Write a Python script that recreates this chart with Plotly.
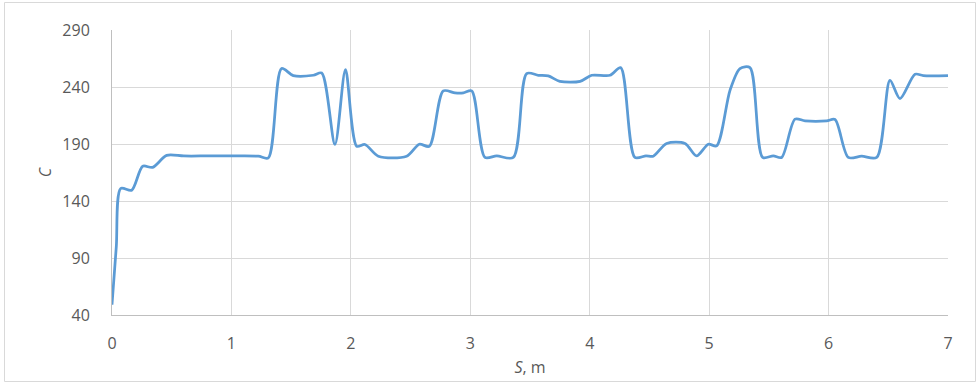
import plotly.graph_objects as go

s_m = [0, 0.036, 0.073, 0.165, 0.257, 0.34, 0.458, 0.6, 0.8, 1.0, 1.225, 1.309, 1.42, 1.518, 1.686, 1.756,
       1.867, 1.955, 2.049, 2.118, 2.23, 2.467, 2.573, 2.657, 2.774, 2.872, 2.942, 3.012, 3.123,
       3.221, 3.36, 3.472, 3.57, 3.653, 3.75, 3.92, 4.017, 4.17, 4.259, 4.378, 4.471, 4.532, 4.644,
       4.798, 4.895, 4.993, 5.063, 5.175, 5.258, 5.342, 5.448, 5.537, 5.607, 5.719, 5.803, 5.984,
       6.054, 6.165, 6.277, 6.403, 6.514, 6.598, 6.724, 6.793, 7.0]
c_vals = [49, 100, 151, 149.5, 170.5, 169.5, 180, 179.5, 179.5, 179.5, 179.3, 177.8, 256.2, 250, 250.3, 252.3,
          189.6, 255.3, 188, 189.6, 179.3, 179.3, 189.8, 188, 236.6, 234.8, 234.8, 236.6, 178.2,
          179.6, 178.2, 251.8, 250.3, 249.7, 245, 245, 250.3, 250.3, 257, 178.2, 179.6, 179.3, 190.5,
          190.5, 179.6, 189.8, 188.4, 237.2, 256.2, 257, 178.2, 179.6, 178.2, 211.8, 210.3, 210.3,
          211.5, 178.2, 179.3, 178.2, 245.9, 229.9, 251.2, 250, 250]

x_ticks = [0, 1, 2, 3, 4, 5, 6, 7]
y_ticks = [40, 90, 140, 190, 240, 290]

W, H = 976, 384
ML, MR, MT, MB = 112, 28, 30, 69

fig = go.Figure()
fig.add_trace(go.Scatter(x=s_m, y=c_vals, mode="lines",
                         line=dict(color="#5B9BD5", width=2.75, shape="spline", smoothing=0.8),
                         hoverinfo="skip", showlegend=False))

font = dict(family="'Open Sans', sans-serif", size=16, color="#595959")

fig.update_layout(
    width=W, height=H,
    margin=dict(l=ML, r=MR, t=MT, b=MB),
    paper_bgcolor="white", plot_bgcolor="white",
    font=font,
    xaxis=dict(range=[0, 7], tickvals=x_ticks, ticktext=[str(v) for v in x_ticks],
               showgrid=True, gridcolor="#d9d9d9", gridwidth=1,
               showline=True, linecolor="#bfbfbf", linewidth=1,
               zeroline=False, ticks="", ticklabelstandoff=14,
               title=dict(text="<i>S</i>, m", standoff=8, font=font)),
    yaxis=dict(range=[40, 290], tickvals=y_ticks, ticktext=[str(v) for v in y_ticks],
               showgrid=True, gridcolor="#d9d9d9", gridwidth=1,
               showline=True, linecolor="#bfbfbf", linewidth=1,
               zeroline=False, ticks="", ticklabelstandoff=18,
               title=dict(text="<i>C</i>", standoff=6, font=font)),
)

pw = W - ML - MR
ph = H - MT - MB
def px2x(p):
    return (p - ML) / pw
def py2y(p):
    return (H - MB - p) / ph

fig.add_shape(type="rect", xref="paper", yref="paper",
              x0=px2x(4.5), x1=px2x(975.5), y0=py2y(381.5), y1=py2y(2.5),
              line=dict(color="#d9d9d9", width=1), layer="below")

fig.write_html("out.html", config={"displayModeBar": False},
               post_script="document.body.style.margin='0';document.body.style.overflow='hidden';")
